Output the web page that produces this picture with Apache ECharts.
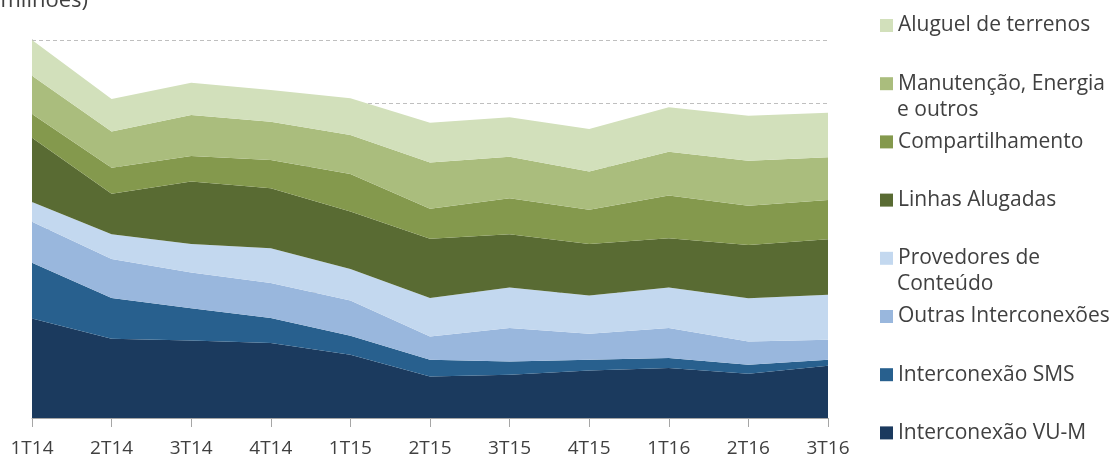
<!DOCTYPE html>
<html>
<head>
<meta charset="utf-8">
<script src="https://cdn.jsdelivr.net/npm/echarts@6/dist/echarts.min.js"></script>
<style>
html,body{margin:0;padding:0;background:#fff;}
#chart{width:1119px;height:461px;}
</style>
</head>
<body>
<div id="chart"></div>
<script>
var categories = ['1T14','2T14','3T14','4T14','1T15','2T15','3T15','4T15','1T16','2T16','3T16'];

var vuM        = [790, 629, 615, 595, 502, 330, 343, 377, 397, 351, 415];
var sms        = [442, 323, 257, 198, 151, 132, 106,  85,  79,  72,  47];
var outrasInt  = [325, 309, 283, 278, 280, 185, 265, 206, 238, 184, 159];
var provedores = [158, 198, 225, 277, 249, 305, 322, 304, 322, 343, 357];
var linhas     = [510, 320, 496, 476, 456, 470, 423, 408, 391, 424, 441];
var compart    = [188, 208, 204, 224, 299, 238, 286, 272, 338, 311, 312];
var manut      = [304, 286, 325, 304, 310, 367, 329, 304, 349, 357, 339];
var aluguel    = [283, 259, 256, 251, 291, 317, 313, 338, 352, 357, 353];

var seriesNames = ['Interconexão VU-M','Interconexão SMS','Outras Interconexões','Provedores de Conteúdo','Linhas Alugadas','Compartilhamento','Manutenção, Energia e outros','Aluguel de terrenos'];
var seriesData = [vuM, sms, outrasInt, provedores, linhas, compart, manut, aluguel];
var colors = ['#1B3A5E','#28608E','#99B7DD','#C3D8EF','#596B33','#84994D','#AABD7D','#D2E0BB'];
var firstLines = {'Manutenção, Energia e outros':'Manutenção, Energia','Provedores de Conteúdo':'Provedores de'};

var FONT = 'Open Sans';
var chart = echarts.init(document.getElementById('chart'));
var series = seriesNames.map(function(n,i){
  return {
    name:n, type:'line', stack:'total', data:seriesData[i],
    symbol:'none', smooth:false,
    lineStyle:{width:0},
    areaStyle:{color:colors[i], opacity:1},
    itemStyle:{color:colors[i]},
    emphasis:{disabled:true}
  };
});

chart.setOption({
  animation:false,
  textStyle:{fontFamily:FONT},
  grid:{left:32, right:291, top:40, bottom:43, containLabel:false},
  xAxis:{
    type:'category', data:categories, boundaryGap:false,
    axisLine:{lineStyle:{color:'#A6A6A6', width:1}},
    axisTick:{show:true, length:9, lineStyle:{color:'#A6A6A6'}},
    axisLabel:{color:'#404040', fontSize:19, fontFamily:FONT, margin:21},
    splitLine:{show:false}
  },
  yAxis:{
    type:'value', min:0, max:3000, interval:500,
    axisLine:{show:true, lineStyle:{color:'#A6A6A6', width:1}},
    axisTick:{show:false},
    axisLabel:{show:false},
    splitLine:{show:true, lineStyle:{color:'#BFBFBF', type:[4,3], width:1}}
  },
  legend:{
    orient:'vertical', left:875, top:10,
    data:seriesNames.slice().reverse(),
    icon:'rect', itemWidth:13, itemHeight:13, itemGap:37.2,
    selectedMode:false,
    formatter:function(n){ return firstLines[n] || n; },
    textStyle:{color:'#404040', fontSize:21, fontFamily:FONT, lineHeight:20}
  },
  graphic:[
    {type:'text', left:897, top:100, style:{text:'e outros', fill:'#404040', font:'21px "Open Sans"'}},
    {type:'text', left:897, top:274, style:{text:'Conteúdo', fill:'#404040', font:'21px "Open Sans"'}},
    {type:'text', x:88, y:12, style:{text:'(R$ milhões)', fill:'#404040', font:'22px "Open Sans"', align:'right', verticalAlign:'bottom'}}
  ],
  series:series
});
</script>
</body>
</html>
